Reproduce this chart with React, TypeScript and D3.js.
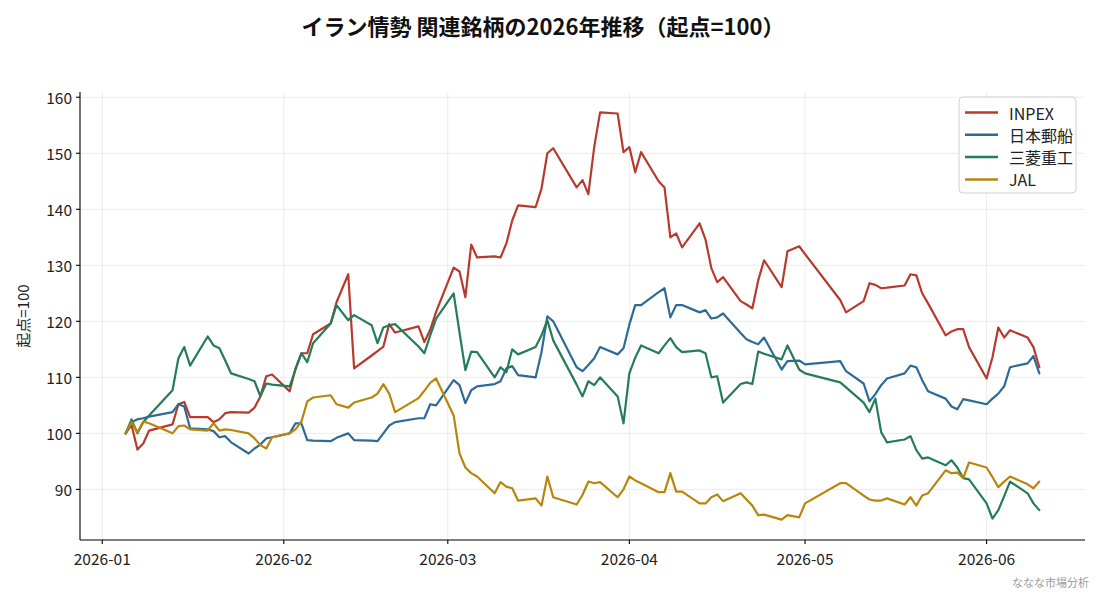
import * as d3 from "d3";

// trading days (TSE calendar)
const DATES = [
  "2026-01-05", "2026-01-06", "2026-01-07", "2026-01-08", "2026-01-09",
  "2026-01-13", "2026-01-14", "2026-01-15", "2026-01-16",
  "2026-01-19", "2026-01-20", "2026-01-21", "2026-01-22", "2026-01-23",
  "2026-01-26", "2026-01-27", "2026-01-28", "2026-01-29", "2026-01-30",
  "2026-02-02", "2026-02-03", "2026-02-04", "2026-02-05", "2026-02-06",
  "2026-02-09", "2026-02-10", "2026-02-12", "2026-02-13",
  "2026-02-16", "2026-02-17", "2026-02-18", "2026-02-19", "2026-02-20",
  "2026-02-24", "2026-02-25", "2026-02-26", "2026-02-27",
  "2026-03-02", "2026-03-03", "2026-03-04", "2026-03-05", "2026-03-06",
  "2026-03-09", "2026-03-10", "2026-03-11", "2026-03-12", "2026-03-13",
  "2026-03-16", "2026-03-17", "2026-03-18", "2026-03-19",
  "2026-03-23", "2026-03-24", "2026-03-25", "2026-03-26", "2026-03-27",
  "2026-03-30", "2026-03-31",
  "2026-04-01", "2026-04-02", "2026-04-03",
  "2026-04-06", "2026-04-07", "2026-04-08", "2026-04-09", "2026-04-10",
  "2026-04-13", "2026-04-14", "2026-04-15", "2026-04-16", "2026-04-17",
  "2026-04-20", "2026-04-21", "2026-04-22", "2026-04-23", "2026-04-24",
  "2026-04-27", "2026-04-28", "2026-04-30",
  "2026-05-01",
  "2026-05-07", "2026-05-08",
  "2026-05-11", "2026-05-12", "2026-05-13", "2026-05-14", "2026-05-15",
  "2026-05-18", "2026-05-19", "2026-05-20", "2026-05-21", "2026-05-22",
  "2026-05-25", "2026-05-26", "2026-05-27", "2026-05-28", "2026-05-29",
  "2026-06-01", "2026-06-02", "2026-06-03", "2026-06-04", "2026-06-05",
  "2026-06-08", "2026-06-09", "2026-06-10",
];

const INPEX = [
  100, 101.5, 97.1, 98.2, 100.5, 101.6, 105.2, 105.6, 102.9, 102.9, 102, 102.5, 103.6, 103.8, 103.7, 104.6, 106.6, 110.2, 110.5,
  107.5, 111.6, 114.3, 114.3, 117.7, 119.6, 123.4, 128.4, 111.6, 113.9, 114.7, 115.5, 119.5, 118, 119.1, 116.3, 118.5, 121.7,
  129.6, 128.9, 124.3, 133.7, 131.4, 131.6, 131.4, 133.9, 138, 140.7, 140.4, 143.7, 150, 150.9, 143.9, 145.2, 142.7, 151.1, 157.3, 157.1, 150.2,
  151.1, 146.6, 150.2, 145, 143.9, 135, 135.7, 133.2, 137.5, 134.6, 129.5, 127, 127.9, 123.6, 123, 122.3, 127.3, 130.9, 126.1, 132.5, 133.4,
  132, 123.8, 121.6, 123.6, 126.8, 126.5, 125.9, 126, 126.4, 128.4, 128.2, 125, 123.2, 117.5, 118.2, 118.6, 118.6, 115.4,
  109.8, 113.6, 118.9, 117.1, 118.4, 117.1, 115.4, 111.8,
];

const NYK = [
  100, 102, 102.5, 102.7, 103, 103.8, 105.2, 104.8, 100.9, 100.7, 100.4, 99.3, 99.5, 98.4, 96.4, 97.3, 98, 99.1, 99.3,
  100, 101.8, 101.8, 98.8, 98.7, 98.6, 99.2, 100, 98.8, 98.7, 98.6, 100, 101.4, 102, 102.7, 102.7, 105.2, 105,
  109.5, 108.6, 105.4, 107.7, 108.4, 108.8, 109.3, 111.6, 112, 110.4, 110, 114.5, 120.9, 120, 111.8, 111.1, 112.2, 113.4, 115.4, 114.1, 115.2,
  119.4, 122.9, 122.9, 125.2, 125.9, 120.7, 122.9, 122.9, 121.6, 122, 120.5, 120.7, 121.4, 117.9, 116.8, 116.3, 115.9, 117.1, 111.4, 112.9, 113,
  112.3, 112.9, 111.1, 108.9, 105.7, 107, 108.6, 109.8, 110.7, 112.1, 111.8, 109.5, 107.5, 106.2, 104.8, 104.3, 106.1, 105.9,
  105.2, 106.2, 107.1, 108.4, 111.8, 112.5, 113.8, 110.7,
];

const MHI = [
  100, 102.5, 100, 102, 103.2, 107.7, 113.4, 115.4, 112.1, 117.3, 115.7, 115.2, 113, 110.7, 109.7, 109.3, 106.6, 108.9, 108.7,
  108.4, 111.4, 114.3, 112.7, 116.1, 119.6, 122.9, 120.2, 121.1, 119.3, 116.1, 118.9, 119.3, 119.5, 115.5, 114.3, 117.5, 120.5,
  125, 118, 111.3, 114.6, 114.5, 110, 111.8, 110.9, 115, 114.1, 115.4, 117.5, 120.2, 116.6, 108.7, 106.6, 109.3, 108.6, 110, 106.6, 101.8,
  110.7, 113.5, 115.7, 114.3, 115.7, 117, 115.4, 114.5, 114.8, 114.3, 110, 110.2, 105.5, 108.8, 109.1, 108.8, 114.6, 114.2, 113.2, 115.7, 111.4,
  110.7, 109.1, 108.2, 105.5, 103.8, 106.2, 100.2, 98.4, 98.9, 99.5, 97, 95.5, 95.7, 94.3, 95.2, 93.9, 92, 91.8,
  87.5, 84.8, 86.3, 88.8, 91.4, 89.3, 87.5, 86.3,
];

const JAL = [
  100, 102, 100.2, 102.1, 101.8, 100, 101.3, 101.4, 100.7, 100.5, 101.8, 100.5, 100.7, 100.6, 100, 99.1, 97.9, 97.3, 99.3,
  100, 100.7, 102.1, 105.7, 106.4, 106.8, 105.2, 104.6, 105.5, 106.4, 107.1, 108.8, 107.1, 103.8, 106.3, 107.6, 109, 109.8,
  103.2, 96.4, 93.9, 92.9, 92.3, 89.3, 91.3, 90.5, 90.2, 88, 88.4, 87.1, 92.3, 88.6, 87.3, 89, 91.4, 91.1, 91.3, 88.6, 90,
  92.3, 91.6, 91.1, 89.5, 89.5, 92.9, 89.6, 89.6, 87.5, 87.5, 88.6, 89.1, 87.9, 89.3, 88.2, 87.1, 85.4, 85.5, 84.6, 85.4, 85,
  87.5, 91.1, 91.1, 88.9, 88.2, 88, 88, 88.4, 87.3, 88.6, 87.1, 88.9, 89.3, 93.4, 92.9, 93, 92, 94.8,
  93.9, 92.2, 90.4, 91.4, 92.3, 90.9, 90.2, 91.4,
];

const SERIES_NAMES = ["INPEX", "日本郵船", "三菱重工", "JAL"];
const SERIES_VALUES = [INPEX, NYK, MHI, JAL];
const COLORS = ["#b83a2f", "#2d6b96", "#237d58", "#b8860b"];

const Y_TICKS = [90, 100, 110, 120, 130, 140, 150, 160];
const X_TICKS = ["2026-01-01", "2026-02-01", "2026-03-01", "2026-04-01", "2026-05-01", "2026-06-01"];

const TITLE = "イラン情勢 関連銘柄の2026年推移（起点=100）";
const Y_LABEL = "起点=100";
const CREDIT = "ななな市場分析";

const W = 1100;
const H = 594;
const LEFT = 80;
const RIGHT = 1085;
const TOP = 92;
const BOTTOM = 540;
const FONT = '"Noto Sans CJK JP", "Noto Sans", sans-serif';

const parse = d3.timeParse("%Y-%m-%d");

export default function App() {
  const dates = DATES.map((d) => parse(d) as Date);

  // matplotlib-like 5% margins
  const [t0, t1] = d3.extent(dates) as [Date, Date];
  const tPad = (+t1 - +t0) * 0.05;
  const x = d3
    .scaleTime()
    .domain([new Date(+t0 - tPad), new Date(+t1 + tPad)])
    .range([LEFT, RIGHT]);

  const all = SERIES_VALUES.flat();
  const vMin = d3.min(all) as number;
  const vMax = d3.max(all) as number;
  const vPad = (vMax - vMin) * 0.05;
  const y = d3.scaleLinear().domain([vMin - vPad, vMax + vPad]).range([BOTTOM, TOP]);

  const xTicks = X_TICKS.map((d) => parse(d) as Date);
  const fmt = d3.timeFormat("%Y-%m");

  const line = d3
    .line<number>()
    .x((_, i) => x(dates[i]))
    .y((v) => y(v));

  return (
    <svg
      width={W}
      height={H}
      style={{ position: "absolute", left: 0, top: 0, background: "#fff" }}
      fontFamily={FONT}
    >
      <text x={543} y={35} textAnchor="middle" fontSize={22} fontWeight="bold" fill="#111">
        {TITLE}
      </text>

      {/* grid */}
      <g stroke="#e6e6e6" strokeWidth={0.8}>
        {Y_TICKS.map((t) => (
          <line key={"gy" + t} x1={LEFT} x2={RIGHT} y1={y(t)} y2={y(t)} />
        ))}
        {xTicks.map((t) => (
          <line key={"gx" + +t} x1={x(t)} x2={x(t)} y1={TOP} y2={BOTTOM} />
        ))}
      </g>

      {/* lines */}
      <g fill="none" strokeWidth={2.2} strokeLinejoin="round" strokeLinecap="round">
        {SERIES_VALUES.map((vals, i) => (
          <path key={SERIES_NAMES[i]} d={line(vals) ?? ""} stroke={COLORS[i]} />
        ))}
      </g>

      {/* axes */}
      <g stroke="#000" strokeWidth={1.1}>
        <line x1={LEFT} x2={LEFT} y1={TOP} y2={BOTTOM} />
        <line x1={LEFT} x2={RIGHT} y1={BOTTOM} y2={BOTTOM} />
        {Y_TICKS.map((t) => (
          <line key={"ty" + t} x1={LEFT - 4} x2={LEFT} y1={y(t)} y2={y(t)} />
        ))}
        {xTicks.map((t) => (
          <line key={"tx" + +t} x1={x(t)} x2={x(t)} y1={BOTTOM} y2={BOTTOM + 4} />
        ))}
      </g>
      <g fontSize={15.5} fill="#222">
        {Y_TICKS.map((t) => (
          <text key={"ly" + t} x={LEFT - 8} y={y(t)} textAnchor="end" dominantBaseline="central">
            {t}
          </text>
        ))}
        {xTicks.map((t) => (
          <text key={"lx" + +t} x={x(t)} y={558} textAnchor="middle" dominantBaseline="central">
            {fmt(t)}
          </text>
        ))}
      </g>
      <text
        transform={`translate(22,${(TOP + BOTTOM) / 2}) rotate(-90)`}
        textAnchor="middle"
        dominantBaseline="central"
        fontSize={15}
        fill="#222"
      >
        {Y_LABEL}
      </text>

      {/* legend */}
      <g>
        <rect x={959} y={97} width={117} height={96} rx={4} fill="#fff" fillOpacity={0.85} stroke="#d0d0d0" />
        {SERIES_NAMES.map((name, i) => {
          const ly = 112.5 + i * 22.3;
          return (
            <g key={"lg" + name}>
              <line x1={965} x2={998} y1={ly} y2={ly} stroke={COLORS[i]} strokeWidth={2.5} />
              <text x={1009} y={ly} dominantBaseline="central" fontSize={16} fill="#222">
                {name}
              </text>
            </g>
          );
        })}
      </g>

      <text x={1089} y={587} textAnchor="end" fontSize={11} fill="#9a9a9a">
        {CREDIT}
      </text>
    </svg>
  );
}
